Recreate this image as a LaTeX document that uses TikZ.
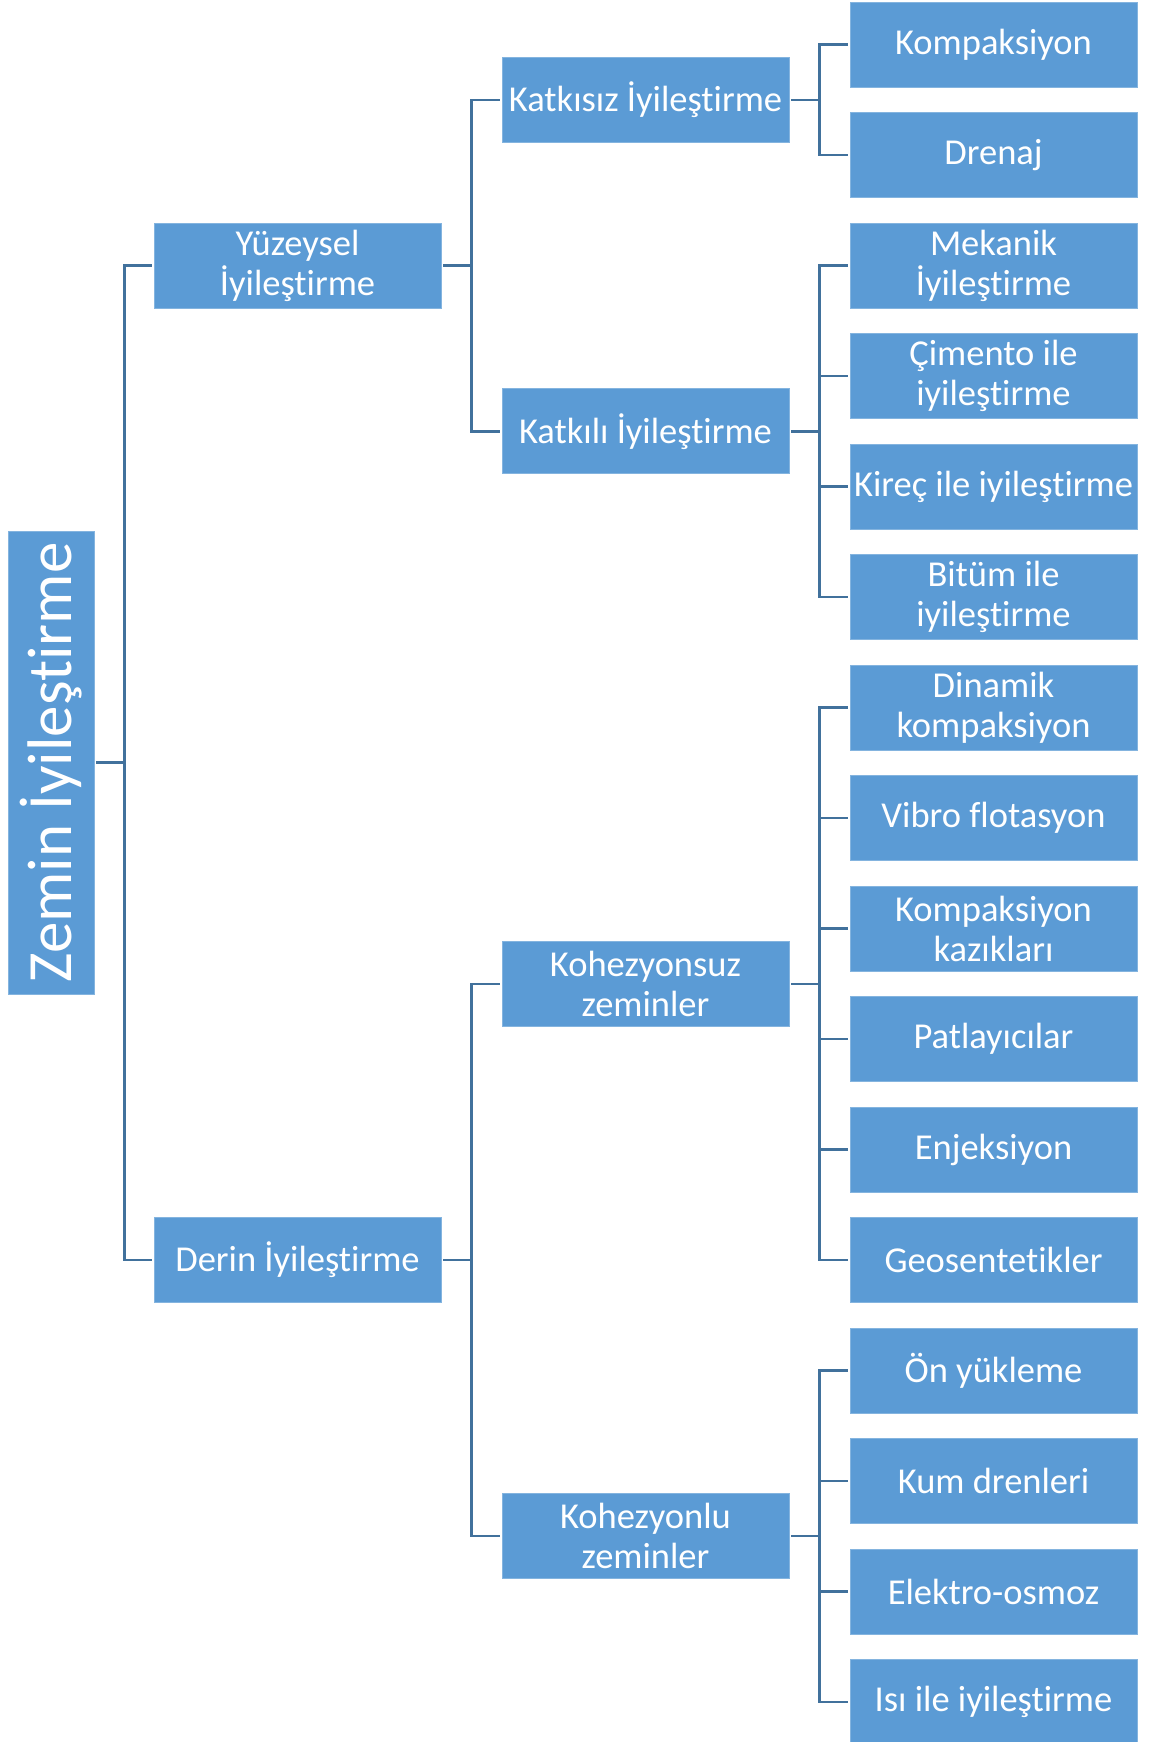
\documentclass[tikz,border=0pt]{standalone}
\usepackage{fontspec}
\setmainfont{Carlito}[Ligatures={NoCommon,NoRequired,NoContextual}]
\usepackage{tikz}
\definecolor{boxblue}{HTML}{5B9BD5}
\definecolor{linkblue}{HTML}{41719C}

\begin{document}
\begin{tikzpicture}[x=1pt,y=-1pt,
  box/.style={rectangle,fill=boxblue,draw=boxblue!75!white,line width=0.8pt,text=white,
    minimum width=287pt,minimum height=85pt,inner sep=0pt,align=center,
    font=\fontsize{36.5}{40}\selectfont},
  rootbox/.style={box,rotate=90,minimum width=463pt,minimum height=86pt,
    font=\fontsize{63}{70}\selectfont},
  link/.style={draw=linkblue,line width=2.5pt,shorten <=2pt,shorten >=2pt}]
\useasboundingbox (0,0) rectangle (1151,1742);
\node[rootbox] (z0) at (51,762.5) {Zemin İyileştirme};
\node[box] (s1) at (297.5,265.5) {Yüzeysel\\İyileştirme};
\node[box] (s2) at (297.5,1260) {Derin İyileştirme};
\node[box] (m1) at (645.5,100) {Katkısız İyileştirme};
\node[box] (m2) at (645.5,431.25) {Katkılı İyileştirme};
\node[box] (m3) at (645.5,983.75) {Kohezyonsuz\\zeminler};
\node[box] (m4) at (645.5,1536) {Kohezyonlu\\zeminler};
\node[box] (l0) at (993.5,44.5) {Kompaksiyon};
\node[box] (l1) at (993.5,155) {Drenaj};
\node[box] (l2) at (993.5,265.5) {Mekanik\\İyileştirme};
\node[box] (l3) at (993.5,376) {Çimento ile\\iyileştirme};
\node[box] (l4) at (993.5,486.5) {Kireç ile iyileştirme};
\node[box] (l5) at (993.5,597) {Bitüm ile\\iyileştirme};
\node[box] (l6) at (993.5,707.5) {Dinamik\\kompaksiyon};
\node[box] (l7) at (993.5,818) {Vibro flotasyon};
\node[box] (l8) at (993.5,928.5) {Kompaksiyon\\kazıkları};
\node[box] (l9) at (993.5,1039) {Patlayıcılar};
\node[box] (l10) at (993.5,1149.5) {Enjeksiyon};
\node[box] (l11) at (993.5,1260) {Geosentetikler};
\node[box] (l12) at (993.5,1370.5) {Ön yükleme};
\node[box] (l13) at (993.5,1481) {Kum drenleri};
\node[box] (l14) at (993.5,1591.5) {Elektro-osmoz};
\node[box] (l15) at (993.5,1702) {Isı ile iyileştirme};
% connectors
\draw[link] (z0.south) -- ++(30,0) |- (s1.west);
\draw[link] (z0.south) -- ++(30,0) |- (s2.west);
\draw[link] (s1.east) -- ++(30,0) |- (m1.west);
\draw[link] (s1.east) -- ++(30,0) |- (m2.west);
\draw[link] (s2.east) -- ++(30,0) |- (m3.west);
\draw[link] (s2.east) -- ++(30,0) |- (m4.west);
\draw[link] (m1.east) -- ++(30,0) |- (l0.west);
\draw[link] (m1.east) -- ++(30,0) |- (l1.west);
\draw[link] (m2.east) -- ++(30,0) |- (l2.west);
\draw[link] (m2.east) -- ++(30,0) |- (l3.west);
\draw[link] (m2.east) -- ++(30,0) |- (l4.west);
\draw[link] (m2.east) -- ++(30,0) |- (l5.west);
\draw[link] (m3.east) -- ++(30,0) |- (l6.west);
\draw[link] (m3.east) -- ++(30,0) |- (l7.west);
\draw[link] (m3.east) -- ++(30,0) |- (l8.west);
\draw[link] (m3.east) -- ++(30,0) |- (l9.west);
\draw[link] (m3.east) -- ++(30,0) |- (l10.west);
\draw[link] (m3.east) -- ++(30,0) |- (l11.west);
\draw[link] (m4.east) -- ++(30,0) |- (l12.west);
\draw[link] (m4.east) -- ++(30,0) |- (l13.west);
\draw[link] (m4.east) -- ++(30,0) |- (l14.west);
\draw[link] (m4.east) -- ++(30,0) |- (l15.west);
\end{tikzpicture}
\end{document}
